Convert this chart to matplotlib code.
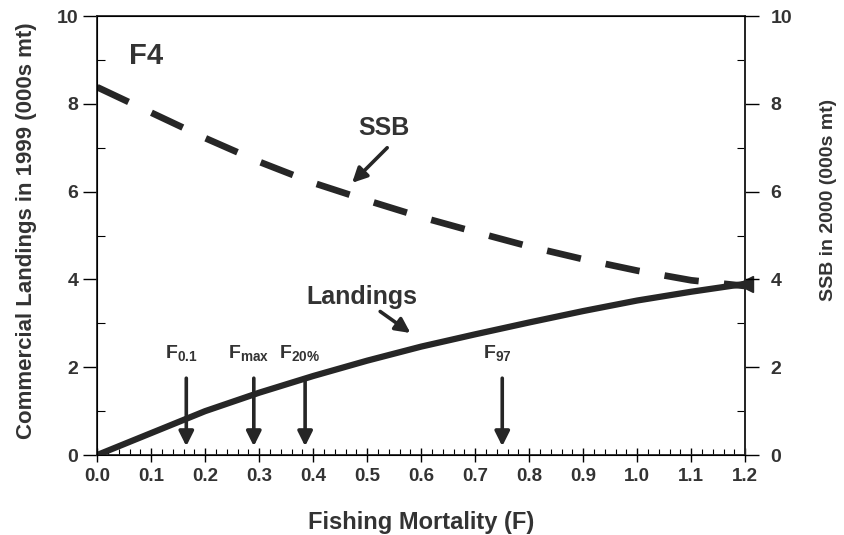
import numpy as np
import matplotlib.pyplot as plt

plt.rcParams['font.family'] = ['Liberation Sans', 'DejaVu Sans']
plt.rcParams['font.weight'] = 'bold'
plt.rcParams['axes.labelweight'] = 'bold'
plt.rcParams['mathtext.fontset'] = 'custom'
plt.rcParams['mathtext.rm'] = 'Liberation Sans:bold'
plt.rcParams['mathtext.it'] = 'Liberation Sans:bold'
plt.rcParams['mathtext.bf'] = 'Liberation Sans:bold'

# fishing mortality grid
f_vals = [0.0, 0.1, 0.2, 0.3, 0.4, 0.5, 0.6, 0.7, 0.8, 0.9, 1.0, 1.1, 1.2]
landings = [0.0, 0.5, 1.0, 1.42, 1.8, 2.15, 2.47, 2.75, 3.02, 3.28, 3.52, 3.72, 3.9]
ssb = [8.38, 7.8, 7.22, 6.68, 6.2, 5.8, 5.42, 5.08, 4.75, 4.46, 4.2, 3.98, 3.85]

ref_labels = ['F$_{\\mathrm{0.1}}$', 'F$_{\\mathrm{max}}$', 'F$_{\\mathrm{20\\%}}$', 'F$_{\\mathrm{97}}$']
ref_f = [0.165, 0.29, 0.385, 0.75]

ink = '#262626'
txt = '#333333'

fig = plt.figure(figsize=(8.45, 5.35), dpi=100)
ax = fig.add_axes([0.115, 0.1495, 0.767, 0.8205])

ax.plot(f_vals, ssb, color=ink, lw=4.8, dashes=(5.2, 3.8), dash_capstyle='butt')
ax.plot(f_vals, landings, color=ink, lw=4.5, solid_capstyle='butt')
ax.plot(f_vals[-1], landings[-1], marker='<', ms=11, color=ink, clip_on=False)

for lab, fx in zip(ref_labels, ref_f):
    ax.annotate('', xy=(fx, 0.2), xytext=(fx, 1.75),
                arrowprops=dict(arrowstyle='-|>', lw=2.6, color=ink,
                                mutation_scale=22, shrinkA=0, shrinkB=0))
    ax.text(fx - 0.01, 2.1, lab, ha='center', va='bottom', fontsize=14,
            color=txt)

ax.annotate('', xy=(0.472, 6.2), xytext=(0.537, 7.0),
            arrowprops=dict(arrowstyle='-|>', lw=2.6, color=ink,
                            mutation_scale=22, shrinkA=0, shrinkB=0))
ax.text(0.53, 7.45, 'SSB', ha='center', va='center', fontsize=18, color=txt)

ax.annotate('', xy=(0.58, 2.78), xytext=(0.524, 3.27),
            arrowprops=dict(arrowstyle='-|>', lw=2.6, color=ink,
                            mutation_scale=22, shrinkA=0, shrinkB=0))
ax.text(0.49, 3.6, 'Landings', ha='center', va='center', fontsize=18, color=txt)

ax.text(0.09, 9.1, 'F4', ha='center', va='center', fontsize=21, color=txt)

ax.set_xlim(0, 1.2)
ax.set_ylim(0, 10)
ax.set_xticks(np.arange(0, 1.21, 0.1))
ax.set_xticks(np.arange(0, 1.21, 0.02), minor=True)
ax.set_xticklabels(['%.1f' % v for v in np.arange(0, 1.21, 0.1)])
ax.set_yticks(range(0, 11, 2))
ax.set_yticks(range(1, 10, 2), minor=True)
ax.tick_params(axis='x', which='major', direction='inout', length=10, width=1,
               labelsize=13.5, labelcolor=txt, pad=4)
ax.tick_params(axis='x', which='minor', direction='in', length=4, width=0.8)
ax.tick_params(axis='y', which='major', direction='out', length=10, width=1,
               labelsize=14, labelcolor=txt)
ax.tick_params(axis='y', which='minor', direction='in', length=6, width=0.8)
ax.set_xlabel('Fishing Mortality (F)', fontsize=17, color=txt)
ax.xaxis.set_label_coords(0.5, -0.128)
ax.set_ylabel('Commercial Landings in 1999 (000s mt)', fontsize=16, color=txt)
ax.yaxis.set_label_coords(-0.093, 0.51)
for sp in ax.spines.values():
    sp.set_color(ink)
    sp.set_linewidth(1.3)

ax2 = ax.twinx()
ax2.set_ylim(0, 10)
ax2.set_yticks(range(0, 11, 2))
ax2.set_yticks(range(1, 10, 2), minor=True)
ax2.tick_params(axis='y', which='major', direction='out', length=10, width=1,
                labelsize=14, labelcolor=txt, pad=8)
ax2.tick_params(axis='y', which='minor', direction='in', length=6, width=0.8)
ax2.set_ylabel('SSB in 2000 (000s mt)', fontsize=14, color=txt)
ax2.yaxis.set_label_coords(1.115, 0.58)
ax2.spines['right'].set_linewidth(1.3)
ax2.spines['right'].set_color(ink)

fig.savefig('out.png', dpi=100)
